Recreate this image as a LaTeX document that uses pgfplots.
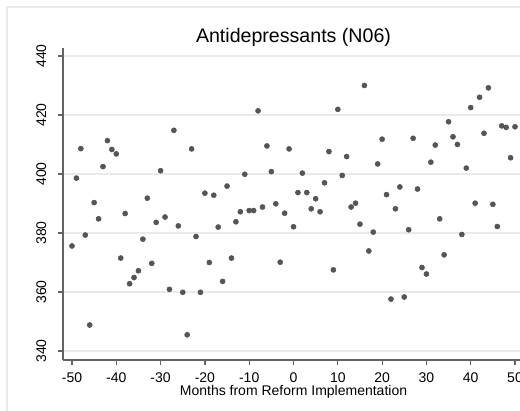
\documentclass[border=0pt]{standalone}
\usepackage{fontspec}
\setmainfont{Liberation Sans}
\usepackage{pgfplots}
\pgfplotsset{compat=1.18}
\definecolor{markgray}{RGB}{85,85,85}
\definecolor{gridgray}{RGB}{234,234,234}
\definecolor{axisgray}{RGB}{100,100,100}
\newcommand{\tickfont}{\fontsize{10.5}{12}\selectfont}

\begin{document}
\begin{tikzpicture}
\clip (0,0) rectangle (390pt,307.5pt);
\fill[white] (0,0) rectangle (390pt,307.5pt);
\draw[gridgray, line width=1.2pt] (5.25pt,-20pt) -- (5.25pt,302.25pt) -- (420pt,302.25pt);
\begin{axis}[at={(47.25pt,37.5pt)}, anchor=south west, scale only axis,
  width=345.75pt, height=234pt,
  xmin=-52.03, xmax=52.03, ymin=336.95, ymax=442.7,
  axis lines=left, axis line style={axisgray, line width=0.9pt, -},
  tick align=outside, major tick length=3.75pt,
  tick style={axisgray, line width=0.9pt},
  xtick={-50,-40,...,50}, ytick={340,360,...,440},
  ymajorgrids, grid style={gridgray, line width=1.1pt},
  /pgf/number format/assume math mode=true,
  tick label style={font=\tickfont},
  xticklabel style={anchor=base, yshift=-12.75pt},
  yticklabel style={rotate=90, anchor=base, yshift=9pt},
  xlabel={Months from Reform Implementation},
  xlabel style={font=\tickfont, at={(0.5,0)}, anchor=base, yshift=-26.25pt},
  title={Antidepressants (N06)},
  title style={font=\fontsize{14.7}{16}\selectfont, at={(0.5,1)}, anchor=base, yshift=-2.25pt},
  clip=false]
\addplot[only marks, mark=*, mark size=1.9pt, markgray, mark options={draw=markgray, fill=markgray}] coordinates {
(-50,375.6) (-49,398.6) (-48,408.6) (-47,379.3) (-46,348.8) (-45,390.3) (-44,384.8) (-43,402.5) (-42,411.3) (-41,408.3)
(-40,406.8) (-39,371.5) (-38,386.6) (-37,362.8) (-36,364.9) (-35,367.2) (-34,377.9) (-33,391.8) (-32,369.7) (-31,383.6)
(-30,401.1) (-29,385.4) (-28,360.9) (-27,414.8) (-26,382.4) (-25,359.9) (-24,345.5) (-23,408.5) (-22,378.8) (-21,359.9)
(-20,393.5) (-19,370.0) (-18,392.8) (-17,382.0) (-16,363.6) (-15,395.9) (-14,371.5) (-13,383.8) (-12,387.2) (-11,399.9)
(-10,387.6) (-9,387.6) (-8,421.4) (-7,388.8) (-6,409.5) (-5,400.8) (-4,389.9) (-3,370.1) (-2,386.7) (-1,408.5)
(0,382.1) (1,393.7) (2,400.3) (3,393.7) (4,388.2) (5,391.6) (6,387.2) (7,397.0) (8,407.6) (9,367.5)
(10,421.9) (11,399.5) (12,405.9) (13,388.8) (14,390.1) (15,383.0) (16,430.0) (17,373.9) (18,380.3) (19,403.4)
(20,411.8) (21,393.0) (22,357.6) (23,388.2) (24,395.6) (25,358.3) (26,381.1) (27,412.1) (28,394.9) (29,368.3)
(30,366.1) (31,404.0) (32,409.8) (33,384.8) (34,372.6) (35,417.7) (36,412.6) (37,410.0) (38,379.5) (39,402.0)
(40,422.5) (41,390.1) (42,426.0) (43,413.8) (44,429.2) (45,389.7) (46,382.2) (47,416.3) (48,415.8) (49,405.5)
(50,416.0)};
\end{axis}
\end{tikzpicture}
\end{document}
